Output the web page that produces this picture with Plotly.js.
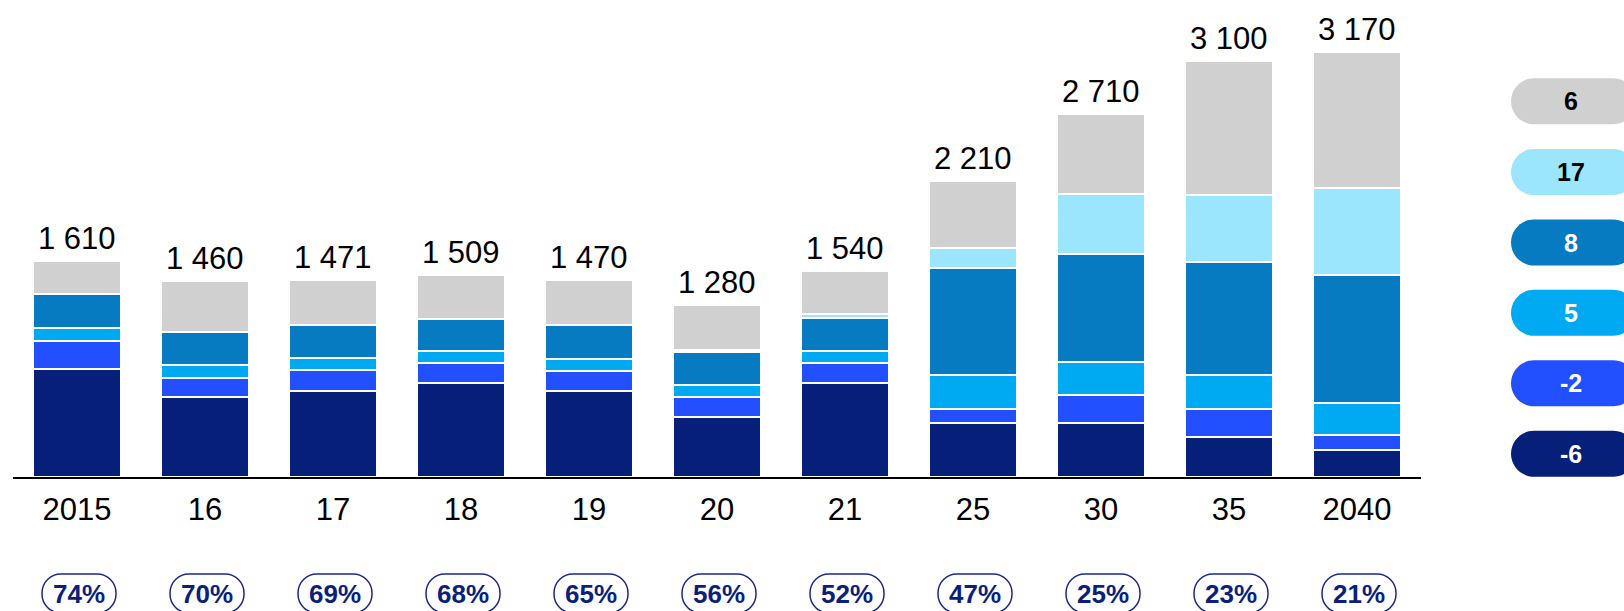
<!DOCTYPE html>
<html><head><meta charset="utf-8">
<script src="https://cdn.plot.ly/plotly-3.0.1.min.js"></script>
<style>html,body{margin:0;padding:0;background:#fff;}#chart{width:1624px;height:611px;}</style>
</head><body><div id="chart"></div>
<script>
// ---- data ----
const categories = ['2015','16','17','18','19','20','21','25','30','35','2040'];
const totalLabels = ['1 610','1 460','1 471','1 509','1 470','1 280','1 540','2 210','2 710','3 100','3 170'];
const totals = [1610,1460,1471,1509,1470,1280,1540,2210,2710,3100,3170];
const seriesNavy  = [805,600,645,702,641,445,701,400,400,300,200];
const seriesBlue  = [210,142,150,150,152,150,152,110,210,210,110];
const seriesCyan  = [100, 91, 90, 88, 90, 89, 90,250,250,250,240];
const seriesMid   = [250,250,248,240,250,250,242,800,800,840,960];
const seriesLight = [  0,  0,  0,  0,  0, 15, 28,149,450,500,645];
const seriesGray  = [245,377,338,329,337,331,327,501,600,1000,1015];
const seriesNames = ['-6','-2','5','8','17','6'];
const percentLabels = ['74%','70%','69%','68%','65%','56%','52%','47%','25%','23%','21%'];

// ---- styles ----
const colors = ['#061f78','#2350ff','#00aaf2','#067bc1','#9ce6fd','#d0d0d0'];
const pillText = ['#ffffff','#ffffff','#ffffff','#ffffff','#000000','#000000'];
const seriesData = [seriesNavy, seriesBlue, seriesCyan, seriesMid, seriesLight, seriesGray];

const W = 1624, H = 611;
const M = {l:13, r:203, t:10, b:134};
const PW = W - M.l - M.r, PH = H - M.t - M.b;
const px2x = p => (p - M.l) / PW;
const py2y = p => (H - M.b - p) / PH;

function roundRect(x0, y0, x1, y1, r) {
  const k = 0.5523 * r;
  const P = (x, y) => px2x(x).toFixed(6) + ',' + py2y(y).toFixed(6);
  return 'M' + P(x0 + r, y0) + ' L' + P(x1 - r, y0) +
    ' C' + P(x1 - r + k, y0) + ' ' + P(x1, y0 + r - k) + ' ' + P(x1, y0 + r) +
    ' L' + P(x1, y1 - r) +
    ' C' + P(x1, y1 - r + k) + ' ' + P(x1 - r + k, y1) + ' ' + P(x1 - r, y1) +
    ' L' + P(x0 + r, y1) +
    ' C' + P(x0 + r - k, y1) + ' ' + P(x0, y1 - r + k) + ' ' + P(x0, y1 - r) +
    ' L' + P(x0, y0 + r) +
    ' C' + P(x0, y0 + r - k) + ' ' + P(x0 + r - k, y0) + ' ' + P(x0 + r, y0) + ' Z';
}

const traces = seriesData.map((vals, i) => ({
  type: 'bar', x: categories, y: vals, name: seriesNames[i],
  marker: {color: colors[i], line: {color: '#ffffff', width: 2}},
  hoverinfo: 'none'
}));

const shapes = [];
const annotations = [];

// total labels (x given as category index on the category axis)
categories.forEach((c, i) => {
  annotations.push({x: i, y: totals[i], xref: 'x', yref: 'y', text: totalLabels[i],
    showarrow: false, yanchor: 'bottom', yshift: 3,
    font: {size: 31, color: '#000', family: 'Liberation Sans, Arial, sans-serif'}});
});

// percent badges
const slot = PW / categories.length;
categories.forEach((c, i) => {
  const cx = M.l + slot * (i + 0.5) + 2;
  shapes.push({type: 'path', xref: 'paper', yref: 'paper',
    path: roundRect(cx - 37, 574, cx + 37, 613, 19),
    fillcolor: 'rgba(0,0,0,0)', line: {color: '#1a2a86', width: 1.5}});
  annotations.push({x: i, y: py2y(594), xref: 'x', yref: 'paper', xshift: 2,
    text: '<b>' + percentLabels[i] + '</b>', showarrow: false, yanchor: 'middle',
    font: {size: 26, color: '#0b1f7b', family: 'Liberation Sans, Arial, sans-serif'}});
});

// legend pills (top to bottom: gray, light, mid, cyan, blue, navy)
const pillCenters = [101.2, 172, 242.5, 312.8, 383.3, 453.7];
for (let j = 0; j < 6; j++) {
  const idx = 5 - j;
  const cy = pillCenters[j];
  shapes.push({type: 'path', xref: 'paper', yref: 'paper',
    path: roundRect(1511, cy - 23, 1636, cy + 23, 23),
    fillcolor: colors[idx], line: {width: 0}});
  annotations.push({x: px2x(1571), y: py2y(cy), xref: 'paper', yref: 'paper',
    text: '<b>' + seriesNames[idx] + '</b>', showarrow: false,
    xanchor: 'center', yanchor: 'middle',
    font: {size: 25, color: pillText[idx], family: 'Liberation Sans, Arial, sans-serif'}});
}

const layout = {
  width: W, height: H, margin: M,
  barmode: 'stack', bargap: 0.305,
  paper_bgcolor: '#fff', plot_bgcolor: '#fff',
  showlegend: false, hovermode: false,
  font: {family: 'Liberation Sans, Arial, sans-serif', color: '#000'},
  xaxis: {type: 'category', categoryarray: categories, categoryorder: 'array', range: [-0.5, 10.5],
    showline: true, linecolor: '#000', linewidth: 2, ticks: '', ticklabelstandoff: 4,
    tickfont: {size: 31, color: '#000'}, showgrid: false, zeroline: false, fixedrange: true},
  yaxis: {range: [0, 3483], visible: false, showgrid: false, zeroline: false, fixedrange: true},
  shapes: shapes, annotations: annotations
};

Plotly.newPlot('chart', traces, layout, {displayModeBar: false, staticPlot: true});
</script></body></html>
